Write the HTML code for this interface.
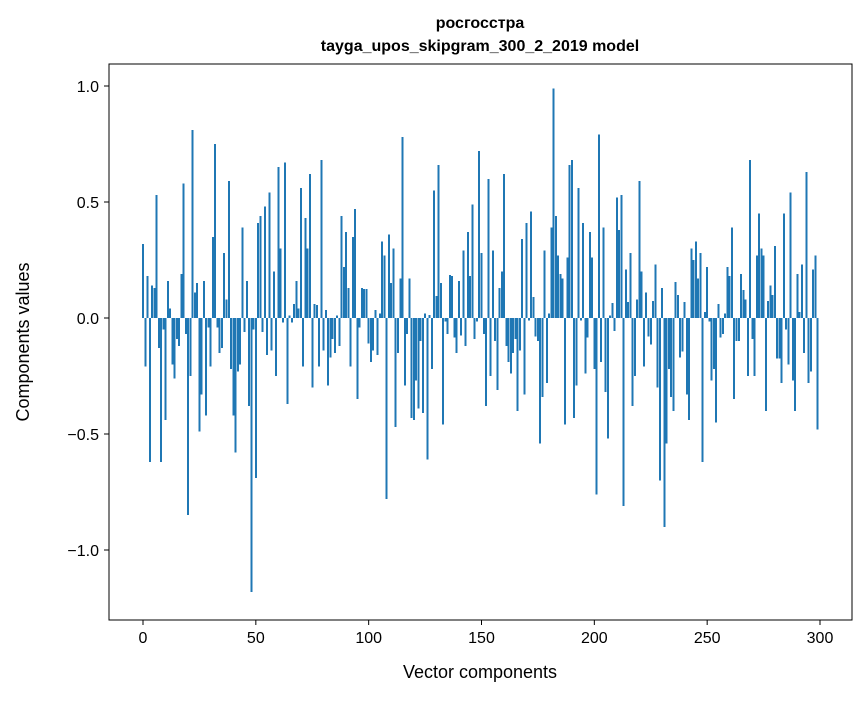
<!DOCTYPE html>
<html><head><meta charset="utf-8"><style>
html,body{margin:0;padding:0;background:#fff;}
svg text{font-family:"Liberation Sans","DejaVu Sans",sans-serif;fill:#000;}
</style></head><body>
<svg id="s" width="867" height="696" xmlns="http://www.w3.org/2000/svg">
<rect width="867" height="696" fill="#fff"/>
<g id="bars" shape-rendering="crispEdges"></g>
<rect x="109" y="64" width="743" height="556" fill="none" stroke="#000" stroke-width="1"/>
<text x="480" y="28" font-size="16" font-weight="bold" text-anchor="middle">росгосстра</text>
<text x="480" y="51" font-size="16" font-weight="bold" text-anchor="middle">tayga_upos_skipgram_300_2_2019 model</text>
<text x="480" y="678" font-size="18" text-anchor="middle">Vector components</text>
<text transform="translate(29,342) rotate(-90)" font-size="18" text-anchor="middle">Components values</text>
<g id="ticks"></g>
</svg>
<script>
var v=[0.32,-0.21,0.18,-0.62,0.14,0.13,0.53,-0.13,-0.62,-0.05,-0.44,0.16,0.04,-0.2,-0.26,-0.09,-0.12,0.19,0.58,-0.07,-0.85,-0.25,0.81,0.11,0.15,-0.49,-0.33,0.16,-0.42,-0.04,-0.21,0.35,0.75,-0.04,-0.15,-0.13,0.28,0.08,0.59,-0.22,-0.42,-0.58,-0.23,-0.2,0.39,-0.06,0.16,-0.38,-1.18,-0.05,
-0.69,0.41,0.44,-0.06,0.48,-0.16,0.54,-0.14,0.2,-0.25,0.65,0.3,-0.02,0.67,-0.37,0.01,-0.02,0.06,0.16,0.04,0.56,-0.21,0.43,0.3,0.62,-0.3,0.06,0.056,-0.21,0.68,-0.14,0.035,-0.29,-0.17,-0.09,-0.15,0.01,-0.12,0.44,0.22,0.37,0.13,-0.21,0.35,0.47,-0.35,-0.04,0.13,0.125,
0.125,-0.11,-0.19,-0.14,0.035,-0.16,0.02,0.33,0.27,-0.78,0.36,0.15,0.3,-0.47,-0.15,0.17,0.78,-0.29,-0.07,0.17,-0.43,-0.44,-0.27,-0.39,-0.1,-0.41,0.02,-0.61,0.013,-0.22,0.55,0.095,0.66,0.15,-0.46,-0.016,-0.07,0.185,0.18,-0.085,-0.15,0.16,-0.076,0.29,-0.12,0.37,0.18,0.49,-0.09,-0.016,0.72,
0.28,-0.07,-0.38,0.6,-0.25,0.29,-0.1,-0.31,0.13,0.2,0.62,-0.12,-0.19,-0.24,-0.15,-0.09,-0.4,-0.14,0.34,-0.33,0.41,-0.01,0.46,0.09,-0.08,-0.1,-0.54,-0.34,0.29,-0.28,0.02,0.39,0.99,0.44,0.27,0.19,0.17,-0.46,0.26,0.66,0.68,-0.43,-0.29,0.56,-0.01,0.41,-0.24,-0.085,0.37,0.26,
-0.22,-0.76,0.79,-0.19,0.39,-0.32,-0.52,0.01,0.065,-0.055,0.52,0.38,0.53,-0.81,0.21,0.07,0.28,-0.38,-0.25,0.08,0.59,0.2,-0.21,0.11,-0.08,-0.115,0.073,0.23,-0.3,-0.7,0.13,-0.9,-0.54,-0.22,-0.34,-0.4,0.155,0.1,-0.17,-0.145,0.07,-0.33,-0.44,0.3,0.25,0.33,0.17,0.28,-0.62,0.026,
0.22,-0.016,-0.27,-0.22,-0.45,0.06,-0.085,-0.07,0.02,0.22,0.18,0.39,-0.35,-0.1,-0.1,0.19,0.12,0.08,-0.25,0.68,-0.09,-0.25,0.27,0.45,0.3,0.27,-0.4,0.073,0.14,0.1,0.31,-0.175,-0.175,-0.28,0.45,-0.05,-0.2,0.54,-0.27,-0.4,0.19,0.026,0.23,-0.15,0.63,-0.28,-0.23,0.21,0.27,-0.48];
var ns="http://www.w3.org/2000/svg",g=document.getElementById("bars"),t=document.getElementById("ticks");
function X(i){return 143+i*677/300;}function Y(y){return 318-y*232;}
for(var i=0;i<v.length;i++){var r=document.createElementNS(ns,"rect");var y0=Y(0),y1=Y(v[i]);
r.setAttribute("x",X(i)-1);r.setAttribute("width",2);r.setAttribute("y",Math.min(y0,y1));r.setAttribute("height",Math.abs(y1-y0));r.setAttribute("fill","#1f77b4");g.appendChild(r);}
function el(n,a,txt){var e=document.createElementNS(ns,n);for(var k in a)e.setAttribute(k,a[k]);if(txt!=null)e.textContent=txt;t.appendChild(e);}
for(var k=0;k<=6;k++){var x=X(k*50);el("line",{x1:x,x2:x,y1:620,y2:625,stroke:"#000"});el("text",{x:x,y:643,"font-size":16,"text-anchor":"middle"},String(k*50));}
var yl=[[1,"1.0"],[0.5,"0.5"],[0,"0.0"],[-0.5,"\u22120.5"],[-1,"\u22121.0"]];
yl.forEach(function(p){var y=Y(p[0]);el("line",{x1:104,x2:109,y1:y,y2:y,stroke:"#000"});el("text",{x:99,y:y+6,"font-size":16,"text-anchor":"end"},p[1]);});
</script>
</body></html>
